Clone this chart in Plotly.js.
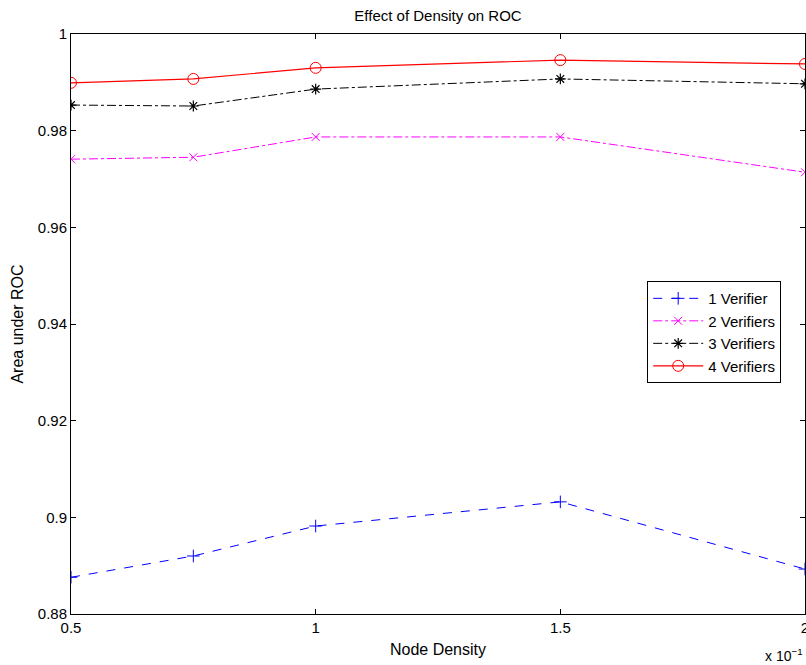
<!DOCTYPE html>
<html>
<head>
<meta charset="utf-8">
<script src="https://cdn.plot.ly/plotly-3.0.1.min.js"></script>
<style>html,body{margin:0;padding:0;background:#fff;}#chart{width:806px;height:665px;}</style>
</head>
<body>
<div id="chart"></div>
<script>
const density = [0.5, 0.75, 1, 1.5, 2];
const verifier1 = [0.8876, 0.8920, 0.8982, 0.9032, 0.8893];
const verifier2 = [0.9741, 0.9745, 0.9787, 0.9787, 0.9714];
const verifier3 = [0.9853, 0.9851, 0.9886, 0.9907, 0.9897];
const verifier4 = [0.9899, 0.9907, 0.9930, 0.9946, 0.9938];
const seriesNames = ["1 Verifier", "2 Verifiers", "3 Verifiers", "4 Verifiers"];
const xTickVals = [0.5, 1, 1.5, 2];
const xTickText = ["0.5", "1", "1.5", "2"];
const yTickVals = [0.88, 0.9, 0.92, 0.94, 0.96, 0.98, 1];
const yTickText = ["0.88", "0.9", "0.92", "0.94", "0.96", "0.98", "1"];

const font = "Liberation Sans, Arial, Helvetica, sans-serif";
const traces = [
  {x: density, y: verifier1, name: seriesNames[0], mode: "lines+markers",
   line: {color: "#0000ff", width: 1, dash: "dash"},
   marker: {symbol: "cross-thin-open", size: 9, color: "#0000ff", line: {color: "#0000ff", width: 1}}},
  {x: density, y: verifier2, name: seriesNames[1], mode: "lines+markers",
   line: {color: "#ff00ff", width: 1, dash: "dashdot"},
   marker: {symbol: "x-thin-open", size: 8, color: "#ff00ff", line: {color: "#ff00ff", width: 1}}},
  {x: density, y: verifier3, name: seriesNames[2], mode: "lines+markers",
   line: {color: "#000000", width: 1, dash: "dashdot"},
   marker: {symbol: "asterisk-open", size: 9, color: "#000000", line: {color: "#000000", width: 1.2}}},
  {x: density, y: verifier4, name: seriesNames[3], mode: "lines+markers",
   line: {color: "#ff0000", width: 1.2, dash: "solid"},
   marker: {symbol: "circle-open", size: 11, color: "#ff0000", line: {color: "#ff0000", width: 1}}}
];

const layout = {
  width: 806, height: 665,
  margin: {l: 71, r: 1, t: 34, b: 51},
  paper_bgcolor: "#fff", plot_bgcolor: "#fff",
  font: {family: font, size: 15, color: "#000"},
  title: {text: "Effect of Density on ROC", font: {family: font, size: 15, color: "#000"}, x: 0.5, xref: "paper", y: 1, yref: "container", yanchor: "top", pad: {t: 10}},
  xaxis: {
    range: [0.5, 2], tickvals: xTickVals, ticktext: xTickText,
    ticks: "inside", ticklen: 5, tickcolor: "#000", mirror: "ticks",
    showline: true, linecolor: "#000", linewidth: 1, showgrid: false, zeroline: false,
    ticklabeloverflow: "allow",
    tickfont: {family: font, size: 15, color: "#000"},
    title: {text: "Node Density", font: {family: font, size: 16, color: "#000"}, standoff: 8}
  },
  yaxis: {
    range: [0.88, 1], tickvals: yTickVals, ticktext: yTickText,
    ticks: "inside", ticklen: 5, tickcolor: "#000", mirror: "ticks",
    showline: true, linecolor: "#000", linewidth: 1, showgrid: false, zeroline: false,
    tickfont: {family: font, size: 15, color: "#000"},
    title: {text: "Area under ROC", font: {family: font, size: 16, color: "#000"}, standoff: 10}
  },
  showlegend: true,
  legend: {
    x: 0.785, y: 0.574, xanchor: "left", yanchor: "top",
    bgcolor: "#fff", bordercolor: "#000", borderwidth: 1,
    font: {family: font, size: 15, color: "#000"},
    tracegroupgap: 0, itemwidth: 50
  },
  annotations: [
    {text: "x 10<sup>−1</sup>", xref: "paper", yref: "paper", x: 1, y: 0, xanchor: "right", yanchor: "top", yshift: -30, xshift: 0, showarrow: false, font: {family: font, size: 14, color: "#000"}}
  ]
};

Plotly.newPlot("chart", traces, layout, {displayModeBar: false, staticPlot: true});
</script>
</body>
</html>
